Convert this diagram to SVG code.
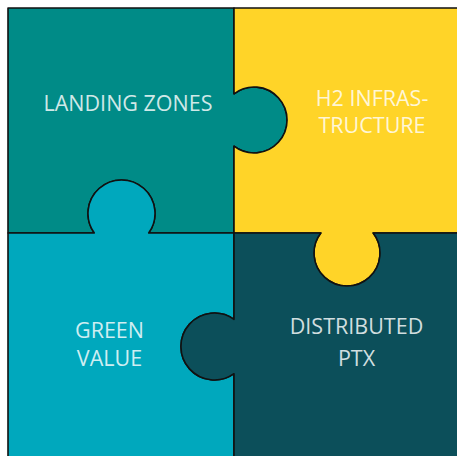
<svg xmlns="http://www.w3.org/2000/svg" width="457" height="456" viewBox="0 0 457 456">
  <style>
    .piece { stroke: #111; stroke-width: 1.6; stroke-linejoin: round; }
    .label { font-family: "Open Sans", "Liberation Sans", sans-serif; font-size: 21.5px; fill: #ffffff; fill-opacity: 0.82; text-anchor: middle; }
  </style>
  <rect width="457" height="456" fill="#ffffff"/>

  <!-- top-left piece: tab to the right, socket on the bottom -->
  <g id="landing-zones">
    <path class="piece" fill="#008B87" d="M8,8 H234 V93.8 A33,33 0 1 1 234,146.2 V233 H148.7 A33.5,33.5 0 1 0 94.3,233 H8 Z"/>
    <text class="label" x="128" y="111">LANDING ZONES</text>
  </g>

  <!-- top-right piece: tab downward, socket on the left -->
  <g id="h2-infrastructure">
    <path class="piece" fill="#FFD428" d="M234,8 H462 V233 H373.2 A33,33 0 1 1 320.8,233 H234 V146.2 A33,33 0 1 0 234,93.8 Z"/>
    <text class="label" x="372" y="106">H2 INFRAS-</text>
    <text class="label" x="372" y="133">TRUCTURE</text>
  </g>

  <!-- bottom-left piece: tab upward, socket on the right -->
  <g id="green-value">
    <path class="piece" fill="#00A8BD" d="M8,233 H94.3 A33.5,33.5 0 1 1 148.7,233 H234 V319.3 A33.5,33.5 0 1 0 234,373.7 V462 H8 Z"/>
    <text class="label" x="109.5" y="338">GREEN</text>
    <text class="label" x="109.5" y="366">VALUE</text>
  </g>

  <!-- bottom-right piece: tab to the left, socket on the top -->
  <g id="distributed-ptx">
    <path class="piece" fill="#0C4F5A" d="M234,233 H320.8 A33,33 0 1 0 373.2,233 H462 V462 H234 V373.7 A33.5,33.5 0 1 1 234,319.3 Z"/>
    <text class="label" x="356.5" y="334">DISTRIBUTED</text>
    <text class="label" x="356.5" y="366">PTX</text>
  </g>

  <g id="connectors"/>
</svg>
